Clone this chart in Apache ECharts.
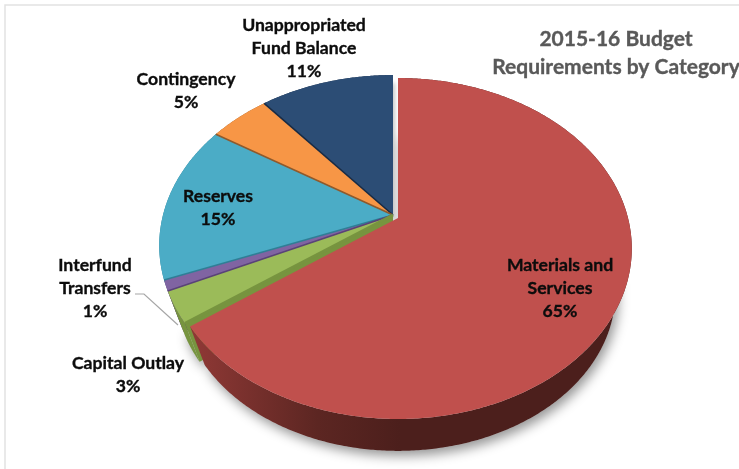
<!DOCTYPE html>
<html>
<head>
<meta charset="utf-8">
<style>html,body{margin:0;padding:0;background:#fff}#chart{width:739px;height:469px}</style>
<script src="https://cdn.jsdelivr.net/npm/echarts@6/dist/echarts.min.js"></script>
</head>
<body>
<div id="chart"></div>
<script>
// Budget shares, clockwise from twelve o'clock
const categories = ['Materials and\nServices', 'Capital Outlay', 'Interfund\nTransfers', 'Reserves', 'Contingency', 'Unappropriated\nFund Balance'];
const shares = [65, 3, 1, 15, 5, 11];
const faceColors = ['#C0504D', '#9BBB59', '#8064A2', '#4BACC6', '#F79646', '#2C4D75'];
const wallColors = ['#4C1F1C', '#77943F', '#5A4378', '#2F7F96', '#8F5A2C', '#182B45'];
const chartTitle = '2015-16 Budget\nRequirements by Category';

// Label centres, one per category
const labelCentres = [[560, 288], [128, 375], [95, 288], [218, 208], [186, 91], [304, 48]];

// Perspective disc: tilt, radii and the height of the rim
const TILT = 0.179, RX = 230, RY = 165, FLOOR_SCALE = 0.93, FLOOR_DROP = 46;
const explodedApex = [398, 218], groupApex = [393, 215];
const FONT = 'Lato, Carlito, "Open Sans", sans-serif';
// Painting order of the slices, back to front
const paintOrder = [60, 18, 16, 14, 12, 10];

const total = shares.reduce((a, b) => a + b, 0);
const startAngles = [];
shares.reduce((acc, v, i) => { startAngles[i] = acc; return acc + v / total * 360; }, 0);

function project(apex, deg, radius, onFloor) {
  const a = deg * Math.PI / 180;
  const u = Math.sin(a) * radius, v = -Math.cos(a) * radius;
  const den = 1 - TILT * v;
  const s = onFloor ? FLOOR_SCALE : 1;
  return [apex[0] + RX * u * s / den, apex[1] + RY * v * s / den + (onFloor ? FLOOR_DROP : 0)];
}
function arc(apex, a0, a1, onFloor) {
  const steps = Math.max(2, Math.ceil(Math.abs(a1 - a0) * 2));
  const pts = [];
  for (let i = 0; i <= steps; i++) pts.push(project(apex, a0 + (a1 - a0) * i / steps, 1, onFloor));
  return pts;
}

function renderSlice(params) {
  const i = params.dataIndex;
  const a0 = startAngles[i], a1 = a0 + shares[i] / total * 360;
  const apex = i === 0 ? explodedApex : groupApex;
  const floorApex = [apex[0], apex[1] + FLOOR_DROP];
  const order = paintOrder[i];
  const children = [];

  const rimTop = arc(apex, a0, a1, false);
  const rimFloor = arc(apex, a0, a1, true);
  const wallFill = i === 0
    ? { type: 'linear', x: 195, y: 0, x2: 400, y2: 0, global: true,
        colorStops: [{ offset: 0, color: '#8E3835' }, { offset: 0.6, color: '#5C2622' }, { offset: 1, color: wallColors[0] }] }
    : wallColors[i];

  // Soft shadow cast by the floor of the raised front
  if (i <= 1) {
    children.push({
      type: 'polygon', z2: 1,
      shape: { points: [floorApex].concat(rimFloor) },
      style: { fill: '#ccc', shadowBlur: 12, shadowColor: 'rgba(0,0,0,0.42)', shadowOffsetX: 3, shadowOffsetY: 5 }
    });
  }
  // Outer wall between the top rim and the floor rim
  children.push({
    type: 'polygon', z2: order,
    shape: { points: rimTop.concat(rimFloor.slice().reverse()) },
    style: { fill: wallFill }
  });
  // Cut wall of the slice at its starting edge
  if (i > 0) {
    children.push({
      type: 'polygon', z2: order + 1,
      shape: { points: [apex, project(apex, a0, 1, false), project(apex, a0, 1, true), floorApex] },
      style: { fill: wallColors[i] }
    });
  }
  // Top face
  const faceStyle = { fill: faceColors[i] };
  if (i === 5) {
    faceStyle.shadowBlur = 4;
    faceStyle.shadowColor = 'rgba(0,0,0,0.22)';
    faceStyle.shadowOffsetX = 2;
    faceStyle.shadowOffsetY = 8;
  }
  children.push({
    type: 'polygon', z2: order + 1,
    shape: { points: [apex].concat(rimTop) },
    style: faceStyle
  });
  // Seam line along the starting edge
  if (i > 0) {
    const edge = project(apex, a0, 1, false);
    children.push({
      type: 'line', z2: order + 20,
      shape: { x1: apex[0], y1: apex[1], x2: edge[0], y2: edge[1] },
      style: { stroke: wallColors[i], lineWidth: i === 1 ? 3 : 1.6 }
    });
  }
  // Category name and share
  children.push({
    type: 'text', z2: 100,
    style: {
      text: categories[i] + '\n' + shares[i] + '%',
      x: labelCentres[i][0], y: labelCentres[i][1],
      align: 'center', verticalAlign: 'middle',
      fontFamily: FONT, fontWeight: 'bold', fontSize: 17.6, lineHeight: 23, fill: '#0c0c0c',
      stroke: '#0c0c0c', lineWidth: 0.35
    }
  });
  return { type: 'group', children };
}

const chart = echarts.init(document.getElementById('chart'), null, { renderer: 'canvas' });
chart.setOption({
  animation: false,
  backgroundColor: '#fff',
  title: {
    text: chartTitle, left: 611, top: 20, textAlign: 'center',
    textStyle: { fontFamily: FONT, fontWeight: 'bold', fontSize: 21, lineHeight: 28, color: '#595959', textBorderColor: '#595959', textBorderWidth: 0.35 }
  },
  graphic: [
    // Frame along the top and left edges
    { type: 'polyline', z: 0, shape: { points: [[5, 469], [5, 5], [739, 5]] }, style: { fill: null, stroke: '#e2e2e2', lineWidth: 1.5 } },
    // Leader from the Interfund Transfers label to its slice
    { type: 'polyline', z: 5, shape: { points: [[135, 294], [144, 294], [178, 325]] }, style: { fill: null, stroke: '#a6a6a6', lineWidth: 1.2 } }
  ],
  series: [{
    type: 'custom',
    coordinateSystem: 'none',
    renderItem: renderSlice,
    data: shares.map((v, i) => ({ name: categories[i], value: v })),
    silent: true
  }]
});
</script>
</body>
</html>
